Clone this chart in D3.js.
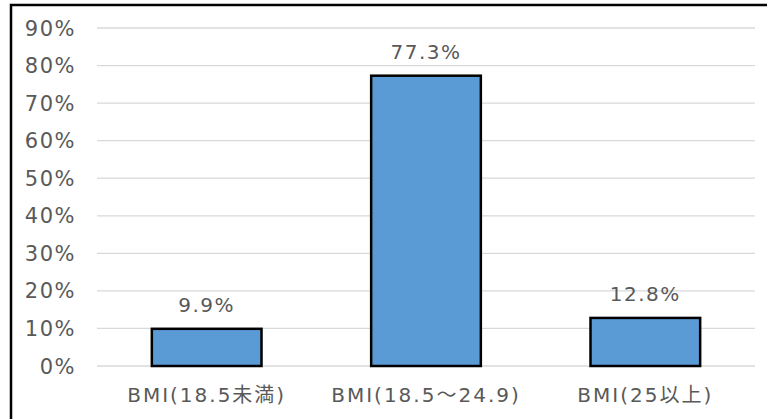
<!DOCTYPE html>
<html>
<head>
<meta charset="utf-8">
<script src="https://cdn.jsdelivr.net/npm/d3@7"></script>
<style>
  body { margin: 0; background: #fff; }
  text { font-family: "DejaVu Sans", "Noto Sans CJK JP", sans-serif; fill: #595959; }
</style>
</head>
<body>
<div id="chart"></div>
<script>
// data
var categories = ["BMI(18.5未満)", "BMI(18.5～24.9)", "BMI(25以上)"];
var values = [9.9, 77.3, 12.8];
var tickValues = [0, 10, 20, 30, 40, 50, 60, 70, 80, 90];

var width = 767, height = 419;
var margin = {top: 28, right: 12, bottom: 53, left: 97};

var svg = d3.select("#chart").append("svg")
    .attr("width", width)
    .attr("height", height);

svg.append("rect").attr("width", width).attr("height", height).attr("fill", "#fff");

// outer frame (right/bottom run off the picture)
svg.append("path")
    .attr("d", "M11," + height + "V5H" + width)
    .attr("fill", "none")
    .attr("stroke", "#000")
    .attr("stroke-width", 2.5);

var x = d3.scaleBand()
    .domain(categories)
    .range([margin.left, width - margin.right])
    .paddingInner(0.5)
    .paddingOuter(0.25);

var y = d3.scaleLinear()
    .domain([0, 90])
    .range([height - margin.bottom, margin.top]);

// gridlines
svg.append("g")
  .selectAll("line")
  .data(tickValues)
  .enter().append("line")
    .attr("x1", margin.left)
    .attr("x2", width - margin.right)
    .attr("y1", function(d) { return y(d); })
    .attr("y2", function(d) { return y(d); })
    .attr("stroke", "#d9d9d9")
    .attr("stroke-width", 1.3);

// y tick labels
svg.append("g")
  .selectAll("text")
  .data(tickValues)
  .enter().append("text")
    .attr("x", 76)
    .attr("y", function(d) { return y(d); })
    .attr("dy", "0.36em")
    .attr("text-anchor", "end")
    .style("font-size", "21px")
    .style("letter-spacing", "1.5px")
    .text(function(d) { return d + "%"; });

// bars
svg.append("g")
  .selectAll("rect")
  .data(values)
  .enter().append("rect")
    .attr("x", function(d, i) { return x(categories[i]); })
    .attr("y", function(d) { return y(d); })
    .attr("width", x.bandwidth())
    .attr("height", function(d) { return y(0) - y(d); })
    .attr("fill", "#5b9bd5")
    .attr("stroke", "#000")
    .attr("stroke-width", 2.5);

// value labels
svg.append("g")
  .selectAll("text")
  .data(values)
  .enter().append("text")
    .attr("x", function(d, i) { return x(categories[i]) + x.bandwidth() / 2; })
    .attr("y", function(d) { return y(d) - 24; })
    .attr("dy", "0.36em")
    .attr("text-anchor", "middle")
    .style("font-size", "20px")
    .style("letter-spacing", "1.5px")
    .text(function(d) { return d.toFixed(1) + "%"; });

// category labels
svg.append("g")
  .selectAll("text")
  .data(categories)
  .enter().append("text")
    .attr("x", function(d) { return x(d) + x.bandwidth() / 2; })
    .attr("y", 395)
    .attr("dy", "0.36em")
    .attr("text-anchor", "middle")
    .style("font-size", "20px")
    .style("letter-spacing", "2px")
    .text(function(d) { return d; });
</script>
</body>
</html>
